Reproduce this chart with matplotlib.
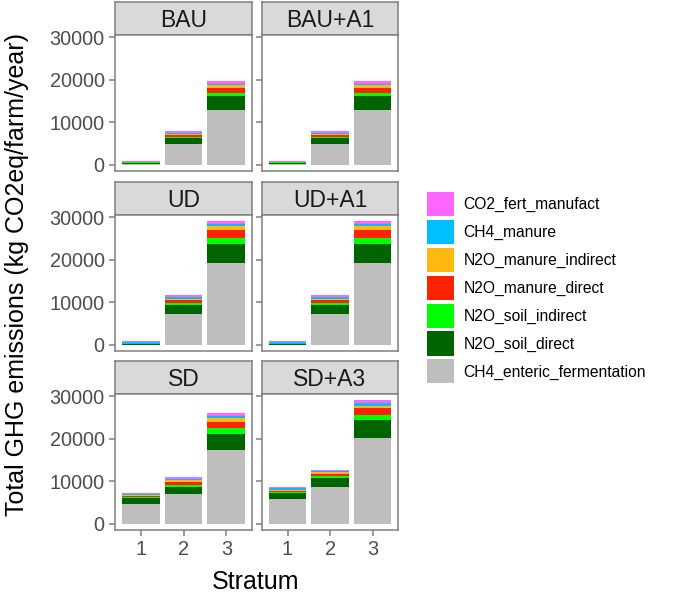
import numpy as np
import matplotlib
matplotlib.use("Agg")
from matplotlib import pyplot as plt

plt.rcParams['font.family'] = ['Liberation Sans', 'DejaVu Sans']

strata = ['1', '2', '3']
scenarios = ['BAU', 'BAU+A1', 'UD', 'UD+A1', 'SD', 'SD+A3']
# stacking order, bottom to top
components = ['CH4_enteric_fermentation', 'N2O_soil_direct', 'N2O_soil_indirect',
              'N2O_manure_direct', 'N2O_manure_indirect', 'CH4_manure', 'CO2_fert_manufact']
colors = ['#BEBEBE', '#006400', '#00FF00', '#FF2200', '#FFB90F', '#00BFFF', '#FF66FF']

# values per scenario: one row per component (same order), columns = strata 1..3
BAU = [[150, 4950, 13000],
       [200, 1350, 3150],
       [250, 250, 700],
       [50, 400, 1250],
       [50, 300, 700],
       [50, 250, 300],
       [200, 500, 700]]
BAU_A1 = [[150, 4950, 13000],
          [200, 1350, 3150],
          [250, 250, 700],
          [50, 400, 1250],
          [50, 300, 700],
          [50, 250, 300],
          [200, 500, 700]]
UD = [[50, 7310, 19270],
      [50, 2050, 4480],
      [50, 470, 1320],
      [50, 620, 1820],
      [50, 400, 940],
      [500, 400, 640],
      [200, 380, 600]]
UD_A1 = [[50, 7310, 19270],
         [50, 2050, 4480],
         [50, 470, 1320],
         [50, 620, 1820],
         [50, 400, 940],
         [500, 400, 640],
         [200, 380, 600]]
SD = [[4710, 6980, 17280],
      [1250, 1650, 3770],
      [310, 560, 1410],
      [330, 610, 1580],
      [230, 400, 780],
      [240, 400, 540],
      [230, 480, 640]]
SD_A3 = [[5890, 8720, 20270],
         [1250, 2040, 4240],
         [310, 550, 1180],
         [330, 470, 1650],
         [230, 310, 470],
         [310, 310, 710],
         [310, 330, 540]]
data = [BAU, BAU_A1, UD, UD_A1, SD, SD_A3]

W, H = 685, 593
fig = plt.figure(figsize=(W / 100, H / 100), dpi=100)

def fx(px):
    return px / W

def fy(px):
    return 1 - px / H

col_x = [(115, 252), (262, 398)]
row_y = [(2, 35, 171), (182, 215, 351), (361, 394, 530)]

ymax = max(np.sum(np.array(d), axis=0).max() for d in data)
ylim = (-0.05 * ymax, 1.05 * ymax)
edge = '#7F7F7F'
tickc = '#4D4D4D'
x = np.arange(1, 4)

for k, (name, vals) in enumerate(zip(scenarios, data)):
    r, c = divmod(k, 2)
    x0, x1 = col_x[c]
    s0, p0, p1 = row_y[r]
    # strip
    sax = fig.add_axes([fx(x0), fy(p0), fx(x1 - x0), (p0 - s0) / H])
    sax.set_facecolor('#D9D9D9')
    sax.set_xticks([])
    sax.set_yticks([])
    for sp in sax.spines.values():
        sp.set_color(edge)
        sp.set_linewidth(1.1)
    sax.text(0.5, 0.45, name, ha='center', va='center', fontsize=16.5,
             color='#1A1A1A', transform=sax.transAxes)
    # panel
    ax = fig.add_axes([fx(x0), fy(p1), fx(x1 - x0), (p1 - p0) / H])
    vals = np.array(vals, dtype=float)
    bottom = np.zeros(3)
    for comp, col, v in zip(components, colors, vals):
        ax.bar(x, v, width=0.88, bottom=bottom, color=col, label=comp,
               edgecolor='none')
        bottom += v
    ax.set_xlim(0.4, 3.6)
    ax.set_ylim(*ylim)
    for sp in ax.spines.values():
        sp.set_color(edge)
        sp.set_linewidth(1.1)
    ax.tick_params(colors=edge, labelcolor=tickc, labelsize=14.3, length=4,
                   width=1.1)
    ax.set_yticks([0, 10000, 20000, 30000])
    ax.set_xticks(x)
    if c == 0:
        ax.set_yticklabels(['0', '10000', '20000', '30000'])
    else:
        ax.set_yticklabels([])
    if r == 2:
        ax.set_xticklabels(strata)
    else:
        ax.tick_params(axis='x', length=0)
        ax.set_xticklabels([])
    if k == 0:
        handles, labels = ax.get_legend_handles_labels()

fig.legend(handles[::-1], labels[::-1], loc='upper left',
           bbox_to_anchor=(fx(427), fy(192)), frameon=False, fontsize=11.25,
           handlelength=1.75, handleheight=2.0, handletextpad=0.6,
           labelspacing=0.24, borderaxespad=0, borderpad=0)

fig.text(fx(256), fy(582), 'Stratum', ha='center', va='center', fontsize=18)
fig.text(fx(17), fy(275), 'Total GHG emissions (kg CO2eq/farm/year)',
         ha='center', va='center', rotation=90, fontsize=18)

fig.savefig('out.png', dpi=100)
